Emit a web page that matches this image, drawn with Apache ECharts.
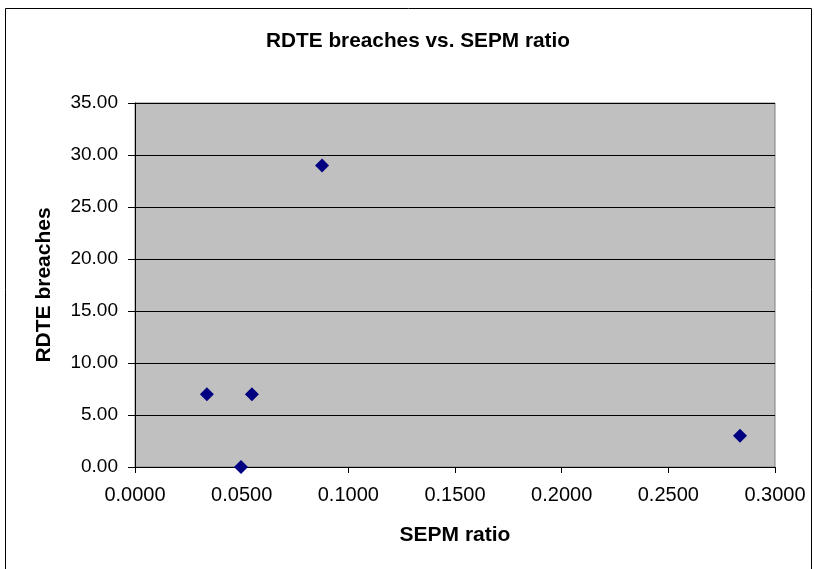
<!DOCTYPE html>
<html><head><meta charset="utf-8">
<script src="https://cdn.jsdelivr.net/npm/echarts@6/dist/echarts.min.js"></script>
<style>html,body{margin:0;padding:0;background:#fff}#c{width:814px;height:569px}</style>
</head><body><div id="c"></div>
<script>
const sepmRatio = [0.0337, 0.0497, 0.0548, 0.0877, 0.2836];
const rdteBreaches = [7, 0, 7, 29, 3];
const title = 'RDTE breaches vs. SEPM ratio';
const xName = 'SEPM ratio';
const yName = 'RDTE breaches';

const chart = echarts.init(document.getElementById('c'));
const font = 'Arial, "Liberation Sans", sans-serif';
chart.setOption({
  animation: false,
  backgroundColor: '#fff',
  graphic: [{type:'rect', shape:{x:5.5,y:8.5,width:806,height:570}, style:{fill:'none',stroke:'#000',lineWidth:1}, silent:true}],
  title: {text: title, left: 261, top: 26, textStyle:{fontFamily:font, fontSize:20.8, fontWeight:'bold', color:'#000'}},
  grid: {left:135, right:39, top:103, bottom:102, show:true, backgroundColor:'#c0c0c0', borderColor:'#808080', borderWidth:1},
  xAxis: {type:'value', min:0, max:0.3, interval:0.05, name:xName, nameLocation:'middle', nameGap:58,
    nameTextStyle:{fontFamily:font, fontSize:21, fontWeight:'bold', color:'#000'},
    axisLine:{show:true, onZero:false, lineStyle:{color:'#000'}}, axisTick:{show:true, length:6, lineStyle:{color:'#000'}},
    axisLabel:{fontFamily:font, fontSize:20, color:'#000', margin:18, formatter:v=>v.toFixed(4)}, splitLine:{show:false}},
  yAxis: {type:'value', min:0, max:35, interval:5, name:yName, nameLocation:'middle', nameGap:80,
    nameTextStyle:{fontFamily:font, fontSize:21, fontWeight:'bold', color:'#000'},
    axisLine:{show:true, lineStyle:{color:'#000'}}, axisTick:{show:true, length:7, lineStyle:{color:'#000'}},
    axisLabel:{fontFamily:font, fontSize:19, color:'#000', margin:17, formatter:v=>v.toFixed(2)},
    splitLine:{show:true, lineStyle:{color:'#000', width:1}}},
  series: [{type:'scatter', symbol:'diamond', symbolSize:14, itemStyle:{color:'#000080', opacity:1},
    data: sepmRatio.map((x,i)=>[x, rdteBreaches[i]])}]
});
</script></body></html>
